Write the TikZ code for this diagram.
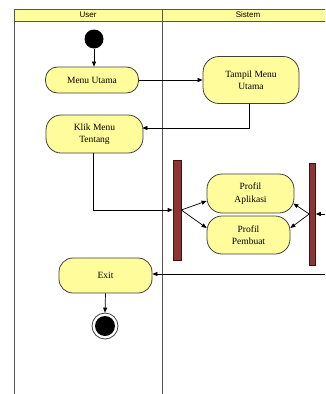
\documentclass[tikz,border=0pt]{standalone}
\usepackage{fontspec}
\setmainfont{Liberation Serif}
\newfontfamily\hdrfont{Liberation Sans}
\usetikzlibrary{arrows.meta,calc}
\definecolor{actfill}{HTML}{FFFC9C}
\definecolor{actline}{HTML}{404040}
\definecolor{hdrfill}{HTML}{FFFC9C}
\definecolor{lanegray}{HTML}{555555}
\definecolor{barfill}{HTML}{8E3434}
\definecolor{barline}{HTML}{3A1414}
\begin{document}
\begin{tikzpicture}[x=1pt,y=-1pt,
  act/.style={draw=actline,line width=0.8pt,fill=actfill,rectangle,inner sep=0pt,align=center,
    font=\fontsize{9.5}{12.5}\selectfont},
  bar/.style={draw=barline,line width=0.6pt,fill=barfill,rectangle,inner sep=0pt},
  flow/.style={draw=black,line width=0.7pt,-{Triangle[length=5pt,width=4pt]}},
  lane/.style={draw=lanegray,line width=0.8pt},
  hdr/.style={font=\hdrfont\fontsize{8}{9}\selectfont,inner sep=0pt}]
\useasboundingbox (0,0) rectangle (325,394);
\clip (0,0) rectangle (325,394);
% swimlanes
\fill[hdrfill] (14,9) rectangle (330,21);
\draw[lane] (14,9) -- (330,9);
\draw[lane] (14,21) -- (330,21);
\draw[lane] (14,9) -- (14,394);
\draw[lane] (162,9) -- (162,394);
\node[hdr] (huser) at (88,15) {User};
\node[hdr] (hsis) at (248,15) {Sistem};
% nodes
\node[circle,fill=black,minimum size=19pt,inner sep=0pt] (start) at (94,39) {};
\node[act,minimum width=93pt,minimum height=26pt,rounded corners=12pt] (mu) at (92,80) {Menu Utama};
\node[act,minimum width=96pt,minimum height=47pt,rounded corners=16pt] (tmu) at (251,80) {Tampil Menu\\Utama};
\node[act,minimum width=97pt,minimum height=38pt,rounded corners=15pt] (kmt) at (94.5,134) {Klik Menu\\Tentang};
\node[bar,minimum width=8pt,minimum height=100pt] (fork1) at (177,210) {};
\node[act,minimum width=87pt,minimum height=39pt,rounded corners=15pt] (pa) at (250.5,193.5) {Profil\\Aplikasi};
\node[act,minimum width=83pt,minimum height=38pt,rounded corners=15pt] (pp) at (248.5,235) {Profil\\Pembuat};
\node[bar,minimum width=6pt,minimum height=102pt] (fork2) at (312.5,214) {};
\node[act,minimum width=93pt,minimum height=35pt,rounded corners=14pt] (exit) at (105.5,275.5) {Exit};
\node[circle,draw=actline,line width=0.8pt,fill=white,minimum size=26pt,inner sep=0pt] (end) at (105,326) {};
\node[circle,fill=black,minimum size=20pt,inner sep=0pt] (endin) at (end.center) {};
% connectors
\coordinate (inright) at (325,214);
\coordinate (exitright) at (325,274);
\draw[flow] (start) -- (start |- mu.north);
\draw[flow] (mu.east) -- (tmu.west);
\draw[flow] (tmu.south -| 249,0) |- ([yshift=6pt,xshift=-1pt]kmt.east);
\draw[flow] (kmt.south -| 93,0) |- (fork1.west);
\draw[flow] (fork1.east) -- ([yshift=-7.5pt]pa.west);
\draw[flow] (fork1.east) -- ([yshift=7pt]pp.west);
\draw[flow] (fork2.west) -- ([yshift=-10pt,xshift=-1pt]pa.east);
\draw[flow] (fork2.west) -- ([yshift=7pt]pp.east);
\draw[flow] (inright) -- (fork2.east);
\draw[flow] (exitright) -- (exitright -| exit.east);
\draw[flow] (exit.south) -- (end.north);
\end{tikzpicture}
\end{document}
